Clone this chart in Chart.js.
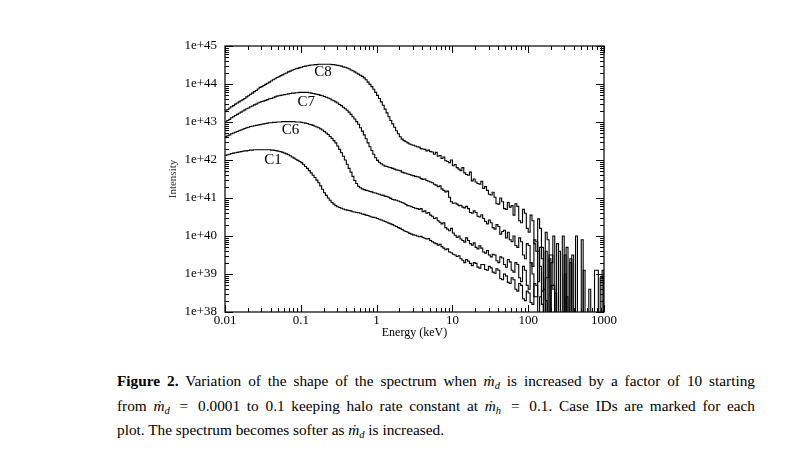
<!DOCTYPE html>
<html>
<head>
<meta charset="utf-8">
<script src="https://cdn.jsdelivr.net/npm/chart.js@4/dist/chart.umd.min.js"></script>
<style>
  html, body { margin: 0; padding: 0; background: #fff; }
  #wrap { position: relative; width: 788px; height: 452px; }
  #chartBox { position: absolute; left: 0; top: 0; width: 788px; height: 340px; }
  #caption {
    position: absolute; left: 117px; top: 369px; width: 638px;
    font-family: "Liberation Serif", "Times New Roman", serif; font-size: 15.3px;
    line-height: 24.5px; color: #000;
  }
  #caption .j { text-align: justify; text-align-last: justify; }
  #caption i { font-style: italic; }
  #caption sub { font-size: 10.5px; vertical-align: -3px; line-height: 0; }
</style>
</head>
<body>
<div id="wrap">
  <div id="chartBox"><canvas id="spectrumChart" width="788" height="340"></canvas></div>
  <div id="caption">
    <div class="j"><b>Figure 2.</b> Variation of the shape of the spectrum when <i>ṁ<sub>d</sub></i> is increased by a factor of 10 starting</div>
    <div class="j">from <i>ṁ<sub>d</sub></i>&thinsp; = &thinsp;0.0001 to 0.1 keeping halo rate constant at <i>ṁ<sub>h</sub></i>&thinsp; = &thinsp;0.1. Case IDs are marked for each</div>
    <div>plot. The spectrum becomes softer as <i>ṁ<sub>d</sub></i> is increased.</div>
  </div>
</div>
<script>
// energy bins (keV), left edges, 0.025 decade wide
const energy = [
  0.01000, 0.01059, 0.01122, 0.01189, 0.01259, 0.01334, 0.01413, 0.01496, 0.01585, 0.01679,
  0.01778, 0.01884, 0.01995, 0.02113, 0.02239, 0.02371, 0.02512, 0.02661, 0.02818, 0.02985,
  0.03162, 0.03350, 0.03548, 0.03758, 0.03981, 0.04217, 0.04467, 0.04732, 0.05012, 0.05309,
  0.05623, 0.05957, 0.06310, 0.06683, 0.07079, 0.07499, 0.07943, 0.08414, 0.08913, 0.09441,
  0.1000, 0.1059, 0.1122, 0.1189, 0.1259, 0.1334, 0.1413, 0.1496, 0.1585, 0.1679,
  0.1778, 0.1884, 0.1995, 0.2113, 0.2239, 0.2371, 0.2512, 0.2661, 0.2818, 0.2985,
  0.3162, 0.3350, 0.3548, 0.3758, 0.3981, 0.4217, 0.4467, 0.4732, 0.5012, 0.5309,
  0.5623, 0.5957, 0.6310, 0.6683, 0.7079, 0.7499, 0.7943, 0.8414, 0.8913, 0.9441,
  1.000, 1.059, 1.122, 1.189, 1.259, 1.334, 1.413, 1.496, 1.585, 1.679,
  1.778, 1.884, 1.995, 2.113, 2.239, 2.371, 2.512, 2.661, 2.818, 2.985,
  3.162, 3.350, 3.548, 3.758, 3.981, 4.217, 4.467, 4.732, 5.012, 5.309,
  5.623, 5.957, 6.310, 6.683, 7.079, 7.499, 7.943, 8.414, 8.913, 9.441,
  10.00, 10.59, 11.22, 11.89, 12.59, 13.34, 14.13, 14.96, 15.85, 16.79,
  17.78, 18.84, 19.95, 21.13, 22.39, 23.71, 25.12, 26.61, 28.18, 29.85,
  31.62, 33.50, 35.48, 37.58, 39.81, 42.17, 44.67, 47.32, 50.12, 53.09,
  56.23, 59.57, 63.10, 66.83, 70.79, 74.99, 79.43, 84.14, 89.13, 94.41,
  100.0, 105.9, 112.2, 118.9, 125.9, 133.4, 141.3, 149.6, 158.5, 167.9,
  177.8, 188.4, 199.5, 211.3, 223.9, 237.1, 251.2, 266.1, 281.8, 298.5,
  316.2, 335.0, 354.8, 375.8, 398.1, 421.7, 446.7, 473.2, 501.2, 530.9,
  562.3, 595.7, 631.0, 668.3, 707.9, 749.9, 794.3, 841.4, 891.3, 944.1,
  1000
];

// log10(intensity) per bin; 37 = empty bin (falls below the axis)
const c8Exp = [
  43.31, 43.33, 43.37, 43.40, 43.43, 43.47, 43.50, 43.53, 43.56, 43.59,
  43.62, 43.66, 43.69, 43.73, 43.76, 43.80, 43.83, 43.87, 43.91, 43.93,
  43.96, 43.99, 44.02, 44.05, 44.08, 44.11, 44.14, 44.17, 44.19, 44.22,
  44.24, 44.27, 44.29, 44.32, 44.34, 44.36, 44.38, 44.40, 44.41, 44.43,
  44.44, 44.46, 44.47, 44.48, 44.49, 44.50, 44.50, 44.51, 44.51, 44.52,
  44.52, 44.52, 44.52, 44.52, 44.52, 44.52, 44.51, 44.51, 44.50, 44.49,
  44.48, 44.47, 44.45, 44.44, 44.42, 44.40, 44.37, 44.35, 44.32, 44.29,
  44.26, 44.23, 44.20, 44.16, 44.11, 44.05, 43.99, 43.93, 43.86, 43.78,
  43.70, 43.62, 43.53, 43.44, 43.34, 43.24, 43.14, 43.04, 42.95, 42.86,
  42.77, 42.69, 42.61, 42.55, 42.51, 42.48, 42.45, 42.42, 42.40, 42.39,
  42.37, 42.35, 42.34, 42.30, 42.29, 42.28, 42.24, 42.26, 42.22, 42.21,
  42.15, 42.20, 42.10, 42.12, 42.04, 42.08, 41.98, 41.96, 41.93, 42.00,
  41.85, 41.88, 41.80, 41.76, 41.72, 41.80, 41.66, 41.62, 41.60, 41.68,
  41.45, 41.50, 41.42, 41.38, 41.36, 41.44, 41.25, 41.30, 41.20, 41.10,
  41.08, 41.15, 41.02, 40.85, 40.84, 41.00, 40.90, 40.72, 40.70, 40.88,
  40.76, 40.80, 40.55, 40.85, 40.78, 40.40, 40.35, 40.70, 40.60, 40.20,
  40.10, 40.55, 40.40, 39.80, 39.60, 40.45, 40.20, 39.70, 37, 40.10,
  39.90, 37, 39.30, 40.00, 37, 39.80, 37, 37, 40.00, 37,
  39.70, 37, 37, 39.50, 37, 40.00, 37, 37, 37, 39.10,
  37, 37, 37, 37, 37, 39.10, 39.10, 37, 37, 39.10,
  37
];
const c7Exp = [
  43.00, 43.04, 43.07, 43.11, 43.14, 43.17, 43.20, 43.23, 43.26, 43.29,
  43.32, 43.35, 43.37, 43.40, 43.42, 43.45, 43.47, 43.50, 43.52, 43.54,
  43.55, 43.57, 43.59, 43.61, 43.62, 43.64, 43.66, 43.68, 43.69, 43.70,
  43.71, 43.72, 43.73, 43.74, 43.75, 43.76, 43.76, 43.77, 43.77, 43.78,
  43.78, 43.78, 43.78, 43.78, 43.77, 43.76, 43.75, 43.74, 43.73, 43.72,
  43.70, 43.69, 43.67, 43.65, 43.63, 43.61, 43.58, 43.56, 43.53, 43.50,
  43.46, 43.43, 43.39, 43.35, 43.31, 43.26, 43.20, 43.14, 43.08, 43.01,
  42.94, 42.85, 42.76, 42.66, 42.56, 42.45, 42.35, 42.25, 42.15, 42.06,
  41.99, 41.94, 41.90, 41.87, 41.84, 41.83, 41.81, 41.80, 41.78, 41.76,
  41.74, 41.73, 41.72, 41.68, 41.66, 41.65, 41.63, 41.62, 41.60, 41.59,
  41.57, 41.56, 41.55, 41.51, 41.49, 41.50, 41.46, 41.44, 41.42, 41.40,
  41.36, 41.34, 41.30, 41.32, 41.24, 41.20, 41.16, 41.18, 41.02, 40.90,
  40.86, 40.87, 40.84, 40.80, 40.81, 40.76, 40.74, 40.78, 40.72, 40.62,
  40.60, 40.66, 40.62, 40.52, 40.50, 40.56, 40.46, 40.38, 40.32, 40.42,
  40.35, 40.22, 40.18, 40.30, 40.25, 40.05, 40.12, 40.15, 39.95, 40.10,
  39.90, 39.85, 40.00, 39.75, 39.70, 39.95, 39.85, 39.50, 39.40, 39.80,
  39.75, 39.30, 39.20, 39.90, 39.85, 38.80, 39.70, 39.40, 38.60, 39.60,
  37, 39.50, 39.50, 38.70, 37, 37, 39.60, 37, 37, 39.50,
  37, 37, 39.40, 37, 37, 37, 37, 37, 39.90, 37,
  37, 37, 37, 37, 37, 37, 37, 37, 37, 37,
  37
];
const c6Exp = [
  42.61, 42.64, 42.66, 42.69, 42.71, 42.73, 42.75, 42.77, 42.79, 42.81,
  42.83, 42.85, 42.86, 42.88, 42.89, 42.90, 42.91, 42.92, 42.93, 42.94,
  42.95, 42.96, 42.97, 42.98, 42.98, 42.99, 42.99, 43.00, 43.00, 43.00,
  43.01, 43.01, 43.01, 43.01, 43.01, 43.01, 43.01, 43.00, 43.00, 43.00,
  42.99, 42.98, 42.97, 42.96, 42.94, 42.93, 42.91, 42.89, 42.87, 42.85,
  42.82, 42.79, 42.75, 42.71, 42.67, 42.62, 42.57, 42.51, 42.45, 42.37,
  42.28, 42.19, 42.10, 42.00, 41.89, 41.78, 41.68, 41.57, 41.46, 41.38,
  41.31, 41.27, 41.24, 41.22, 41.20, 41.19, 41.17, 41.16, 41.14, 41.13,
  41.11, 41.10, 41.08, 41.07, 41.05, 41.04, 41.02, 40.99, 40.96, 40.95,
  40.94, 40.92, 40.90, 40.88, 40.86, 40.83, 40.80, 40.79, 40.77, 40.75,
  40.73, 40.72, 40.70, 40.72, 40.64, 40.66, 40.60, 40.62, 40.55, 40.52,
  40.46, 40.48, 40.40, 40.36, 40.32, 40.35, 40.22, 40.18, 40.14, 40.20,
  40.08, 40.02, 39.96, 40.00, 39.92, 39.88, 39.84, 39.95, 39.88, 39.80,
  39.76, 39.82, 39.70, 39.66, 39.74, 39.68, 39.58, 39.55, 39.62, 39.50,
  39.45, 39.52, 39.50, 39.35, 39.30, 39.45, 39.42, 39.25, 39.18, 39.38,
  39.32, 39.10, 39.05, 39.30, 39.25, 38.90, 38.80, 39.20, 39.10, 38.70,
  38.60, 39.30, 39.00, 38.40, 38.40, 39.60, 39.20, 38.20, 37, 38.90,
  38.90, 39.40, 37, 37, 38.50, 37, 37, 37, 37, 39.00,
  37, 37, 39.30, 37, 37, 37, 37, 37, 37, 37,
  37, 37, 38.60, 37, 37, 37, 37, 37, 38.90, 38.90,
  37
];
const c1Exp = [
  42.12, 42.14, 42.15, 42.17, 42.18, 42.19, 42.20, 42.21, 42.22, 42.23,
  42.24, 42.24, 42.25, 42.26, 42.26, 42.27, 42.27, 42.27, 42.27, 42.27,
  42.27, 42.27, 42.27, 42.27, 42.26, 42.26, 42.25, 42.24, 42.23, 42.22,
  42.20, 42.18, 42.16, 42.14, 42.11, 42.08, 42.05, 42.02, 41.99, 41.96,
  41.93, 41.88, 41.83, 41.78, 41.72, 41.66, 41.60, 41.54, 41.47, 41.40,
  41.32, 41.23, 41.14, 41.07, 41.00, 40.94, 40.88, 40.84, 40.80, 40.77,
  40.75, 40.73, 40.71, 40.69, 40.68, 40.67, 40.66, 40.64, 40.63, 40.62,
  40.61, 40.60, 40.58, 40.57, 40.55, 40.54, 40.52, 40.50, 40.49, 40.48,
  40.46, 40.44, 40.42, 40.40, 40.38, 40.36, 40.34, 40.32, 40.30, 40.27,
  40.25, 40.22, 40.20, 40.17, 40.14, 40.12, 40.10, 40.07, 40.05, 40.03,
  40.02, 40.00, 39.98, 39.99, 39.96, 39.94, 39.92, 39.93, 39.88, 39.85,
  39.82, 39.80, 39.76, 39.78, 39.72, 39.68, 39.64, 39.66, 39.58, 39.56,
  39.52, 39.50, 39.46, 39.48, 39.40, 39.36, 39.30, 39.38, 39.34, 39.28,
  39.22, 39.30, 39.28, 39.18, 39.15, 39.25, 39.25, 39.12, 39.10, 39.20,
  39.16, 39.05, 39.02, 39.14, 39.10, 38.88, 38.85, 39.00, 38.95, 38.78,
  38.75, 38.90, 38.85, 38.60, 38.55, 38.75, 38.70, 38.35, 38.30, 38.55,
  38.50, 38.25, 38.20, 38.75, 38.70, 37, 38.40, 38.55, 38.60, 38.30,
  37, 37, 38.70, 38.60, 37, 37, 37, 37, 37, 37,
  38.40, 37, 37, 37, 37, 37, 37, 37, 37, 37,
  37, 37, 37, 37, 37, 37, 37, 37, 37, 37,
  37
];

// case ID labels placed in data coordinates
const caseIds = ['C8', 'C7', 'C6', 'C1'];
const labelEnergy = [0.196, 0.118, 0.073, 0.043];
const labelExp = [44.32, 43.53, 42.79, 42.0];

const xTickLabels = ['0.01', '0.1', '1', '10', '100', '1000'];
const yTickLabels = ['1e+38', '1e+39', '1e+40', '1e+41', '1e+42', '1e+43', '1e+44', '1e+45'];

const serif = '"Liberation Serif", "Times New Roman", serif';

function toPoints(exps) {
  return energy.map(function (e, i) { return { x: e, y: Math.pow(10, exps[i]) }; });
}

function isDecade(v) {
  const l = Math.log10(v);
  return Math.abs(l - Math.round(l)) < 1e-6;
}

const framePlugin = {
  id: 'frame',
  afterDatasetsDraw: function (chart) {
    const ctx = chart.ctx;
    const a = chart.chartArea;
    const xs = chart.scales.x, ys = chart.scales.y;
    ctx.save();
    ctx.strokeStyle = '#000';
    ctx.lineWidth = 1.2;
    ctx.strokeRect(a.left, a.top, a.right - a.left, a.bottom - a.top);
    ctx.lineWidth = 1;
    ctx.beginPath();
    // x ticks, bottom and top, pointing inward
    for (let d = -2; d <= 3; d++) {
      for (let m = 1; m <= 9; m++) {
        const v = m * Math.pow(10, d);
        if (v > 1000.0001) break;
        const px = Math.round(xs.getPixelForValue(v)) + 0.5;
        const len = m === 1 ? 7 : 4;
        ctx.moveTo(px, a.bottom); ctx.lineTo(px, a.bottom - len);
        ctx.moveTo(px, a.top); ctx.lineTo(px, a.top + len);
      }
    }
    // y ticks, left and right
    for (let d = 38; d <= 45; d++) {
      for (let m = 1; m <= 9; m++) {
        if (d === 45 && m > 1) break;
        const py = Math.round(ys.getPixelForValue(m * Math.pow(10, d))) + 0.5;
        const len = m === 1 ? 8 : 4;
        ctx.moveTo(a.left, py); ctx.lineTo(a.left + len, py);
        ctx.moveTo(a.right, py); ctx.lineTo(a.right - len, py);
      }
    }
    ctx.stroke();
    // case labels
    ctx.fillStyle = '#000';
    ctx.font = '15px ' + serif;
    ctx.textAlign = 'center';
    ctx.textBaseline = 'middle';
    caseIds.forEach(function (id, i) {
      ctx.fillText(id, xs.getPixelForValue(labelEnergy[i]), ys.getPixelForValue(Math.pow(10, labelExp[i])));
    });
    ctx.restore();
  }
};

function lineSet(label, exps) {
  return {
    label: label,
    data: toPoints(exps),
    stepped: true,
    borderColor: '#000',
    borderWidth: 1.1,
    pointRadius: 0,
    fill: false
  };
}

const ctx = document.getElementById('spectrumChart').getContext('2d');
new Chart(ctx, {
  type: 'line',
  data: {
    datasets: [
      lineSet('C8', c8Exp),
      lineSet('C7', c7Exp),
      lineSet('C6', c6Exp),
      lineSet('C1', c1Exp)
    ]
  },
  options: {
    responsive: false,
    animation: false,
    devicePixelRatio: 1,
    layout: { padding: { left: 160, right: 184, top: 46, bottom: 0 } },
    plugins: { legend: { display: false }, tooltip: { enabled: false } },
    scales: {
      x: {
        type: 'logarithmic',
        min: 0.01,
        max: 1000,
        afterFit: function (s) { s.height = 28; },
        grid: { display: false, drawTicks: false },
        border: { display: false },
        ticks: {
          autoSkip: false,
          maxRotation: 0,
          padding: 1,
          color: '#000',
          font: { family: serif, size: 13 },
          callback: function (v) {
            if (!isDecade(v)) return '';
            return xTickLabels[Math.round(Math.log10(v)) + 2];
          }
        },
        title: {
          display: true,
          text: 'Energy (keV)',
          color: '#000',
          font: { family: serif, size: 12 },
          padding: { top: 0, bottom: 0 }
        }
      },
      y: {
        type: 'logarithmic',
        min: 1e38,
        max: 1e45,
        afterFit: function (s) { s.width = 65; },
        grid: { display: false, drawTicks: false },
        border: { display: false },
        ticks: {
          autoSkip: false,
          padding: 8,
          color: '#000',
          font: { family: serif, size: 13 },
          callback: function (v) {
            if (!isDecade(v)) return '';
            return yTickLabels[Math.round(Math.log10(v)) - 38];
          }
        },
        title: {
          display: true,
          text: 'Intensity',
          color: '#333',
          font: { family: serif, size: 11 },
          padding: { top: 7, bottom: 0 }
        }
      }
    }
  },
  plugins: [framePlugin]
});
</script>
</body>
</html>
